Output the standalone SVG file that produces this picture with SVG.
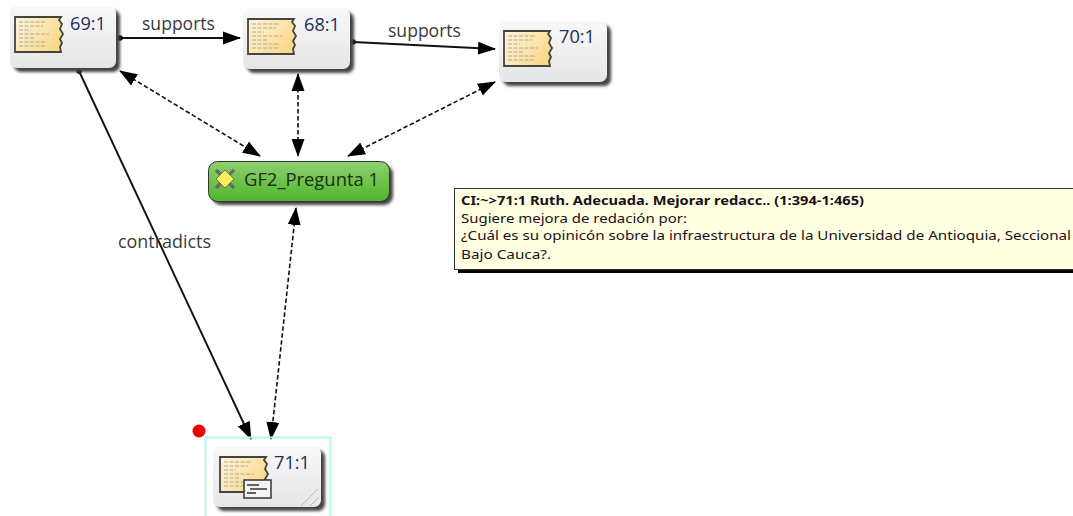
<svg xmlns="http://www.w3.org/2000/svg" xmlns:xlink="http://www.w3.org/1999/xlink" width="1073" height="516" viewBox="0 0 1073 516">
<style>
text{font-family:"Open Sans","Noto Sans","Liberation Sans",sans-serif}
.lbl{font-size:17.500px;fill:#3a3a3a}
.id{font-size:17.500px;fill:#20305a}
.tip{font-size:12.500px;fill:#1a1020;font-family:"Noto Sans","Open Sans",sans-serif}
.sol{stroke:#111;stroke-width:1.900;fill:none}
.dash{stroke:#111;stroke-width:1.600;stroke-dasharray:4.500 2.500;fill:none}
.card{fill:url(#cardG)}
.cardS{fill:#444;filter:url(#blur)}
.ln{stroke:#b0a98f;stroke-width:1;stroke-dasharray:4 1.500}
</style>
<defs>
<linearGradient id="cardG" x1="0" y1="0" x2="0" y2="1"><stop offset="0" stop-color="#f8f8f8"/><stop offset="1" stop-color="#e6e6e6"/></linearGradient>
<linearGradient id="docG" x1="0" y1="0" x2="1" y2="0.6"><stop offset="0" stop-color="#fcf4e0"/><stop offset="1" stop-color="#fbd98a"/></linearGradient>
<linearGradient id="grn" x1="0" y1="0" x2="0" y2="1"><stop offset="0" stop-color="#8fd071"/><stop offset="1" stop-color="#4fb52c"/></linearGradient>
<filter id="blur" x="-20%" y="-20%" width="140%" height="140%"><feGaussianBlur stdDeviation="1.500"/></filter>
<marker id="arr" markerUnits="userSpaceOnUse" markerWidth="18" markerHeight="14" refX="17" refY="7" orient="auto-start-reverse"><path d="M0 0.500L18 7L0 13.500Z" fill="#000"/></marker>
<marker id="dot" markerUnits="userSpaceOnUse" markerWidth="7" markerHeight="7" refX="3.500" refY="3.500"><circle cx="3.500" cy="3.500" r="2.800" fill="#000"/></marker>
<g id="doc">
<path d="M0 0H46L44 3L47 7L45 12L48 17L45 22L47 26L45 30L46 35H0Z" fill="url(#docG)" stroke="#45453c" stroke-width="1.800"/>
<path class="ln" d="M4 5H32M4 9H28M4 13H16M4 17H34M4 21H20M4 25H32M4 29H30"/>
</g>
</defs>
<g id="connectors">
<line class="sol" x1="120" y1="38" x2="240" y2="38" marker-start="url(#dot)" marker-end="url(#arr)"/>
<line class="sol" x1="353" y1="42" x2="495" y2="49" marker-start="url(#dot)" marker-end="url(#arr)"/>
<line class="sol" x1="79" y1="71" x2="251" y2="439" marker-start="url(#dot)" marker-end="url(#arr)"/>
<line class="dash" x1="120" y1="71" x2="260" y2="156" marker-start="url(#arr)" marker-end="url(#arr)"/>
<line class="dash" x1="298" y1="74" x2="298" y2="156" marker-start="url(#arr)" marker-end="url(#arr)"/>
<line class="dash" x1="495" y1="82" x2="348" y2="156" marker-start="url(#arr)" marker-end="url(#arr)"/>
<line class="dash" x1="296" y1="208" x2="271" y2="439" marker-start="url(#arr)" marker-end="url(#arr)"/>
<text class="lbl" x="142" y="30" textLength="73" lengthAdjust="spacingAndGlyphs">supports</text>
<text class="lbl" x="388" y="37" textLength="73" lengthAdjust="spacingAndGlyphs">supports</text>
<text class="lbl" x="118" y="248" textLength="93" lengthAdjust="spacingAndGlyphs">contradicts</text>
</g>
<g id="n69">
<rect class="cardS" x="14" y="10" width="106" height="62" rx="7"/>
<rect class="card" x="10" y="6" width="106" height="62" rx="7"/>
<use href="#doc" x="15" y="17"/>
<text class="id" x="70" y="30" textLength="36" lengthAdjust="spacingAndGlyphs">69:1</text>
</g>
<g id="n68">
<rect class="cardS" x="247" y="12" width="107" height="61" rx="7"/>
<rect class="card" x="243" y="8" width="107" height="61" rx="7"/>
<use href="#doc" x="248" y="19"/>
<text class="id" x="304" y="31" textLength="36" lengthAdjust="spacingAndGlyphs">68:1</text>
</g>
<g id="n70">
<rect class="cardS" x="503" y="25" width="108" height="61" rx="7"/>
<rect class="card" x="499" y="21" width="108" height="61" rx="7"/>
<use href="#doc" x="504" y="31"/>
<text class="id" x="559" y="43" textLength="36" lengthAdjust="spacingAndGlyphs">70:1</text>
</g>
<g id="gf2">
<rect x="212" y="165" width="181" height="40" rx="9" fill="#444" filter="url(#blur)"/>
<rect x="208.500" y="161.500" width="181" height="40" rx="9" fill="url(#grn)" stroke="#333" stroke-width="1"/>
<path d="M216 170L234 188M234 170L216 188" stroke="#6a6a6a" stroke-width="3.500"/>
<path d="M225 170L234 179L225 188L216 179Z" fill="#f6ee5a" stroke="#77773a" stroke-width="1"/>
<text x="244" y="186" font-size="17.500" fill="#1a3010" textLength="135" lengthAdjust="spacingAndGlyphs">GF2_Pregunta 1</text>
</g>
<g id="tooltip">
<rect x="458" y="192" width="615" height="81" fill="#000"/>
<rect x="454.500" y="188.500" width="619" height="81" fill="#ffffe1" stroke="#333" stroke-width="1"/>
<text class="tip" x="461" y="205" font-weight="700" textLength="403" lengthAdjust="spacingAndGlyphs">CI:~&gt;71:1 Ruth. Adecuada. Mejorar redacc.. (1:394-1:465)</text>
<text class="tip" x="461" y="223" textLength="226" lengthAdjust="spacingAndGlyphs">Sugiere mejora de redación por:</text>
<text class="tip" x="461" y="240" textLength="610" lengthAdjust="spacingAndGlyphs">¿Cuál es su opinicón sobre la infraestructura de la Universidad de Antioquia, Seccional</text>
<text class="tip" x="461" y="259" textLength="90" lengthAdjust="spacingAndGlyphs">Bajo Cauca?.</text>
</g>
<g id="n71">
<circle cx="199" cy="431" r="6.500" fill="#f00000"/>
<rect x="205.500" y="437.500" width="125" height="90" fill="none" stroke="#b4f8ea" stroke-width="2"/>
<rect class="cardS" x="217" y="450" width="108" height="61" rx="7"/>
<rect class="card" x="213" y="446" width="108" height="61" rx="7"/>
<use href="#doc" x="220" y="457"/>
<rect x="244" y="480" width="27" height="18" fill="#f4f4f4" stroke="#333" stroke-width="1.500"/>
<path d="M247 485H259M250 489H267M247 493H256" stroke="#333" stroke-width="1.500"/>
<path d="M301 506L318 489M310 506L319 497" stroke="#bbb" stroke-width="1" fill="none"/>
<text class="id" x="274" y="469" textLength="36" lengthAdjust="spacingAndGlyphs">71:1</text>
</g>
</svg>
